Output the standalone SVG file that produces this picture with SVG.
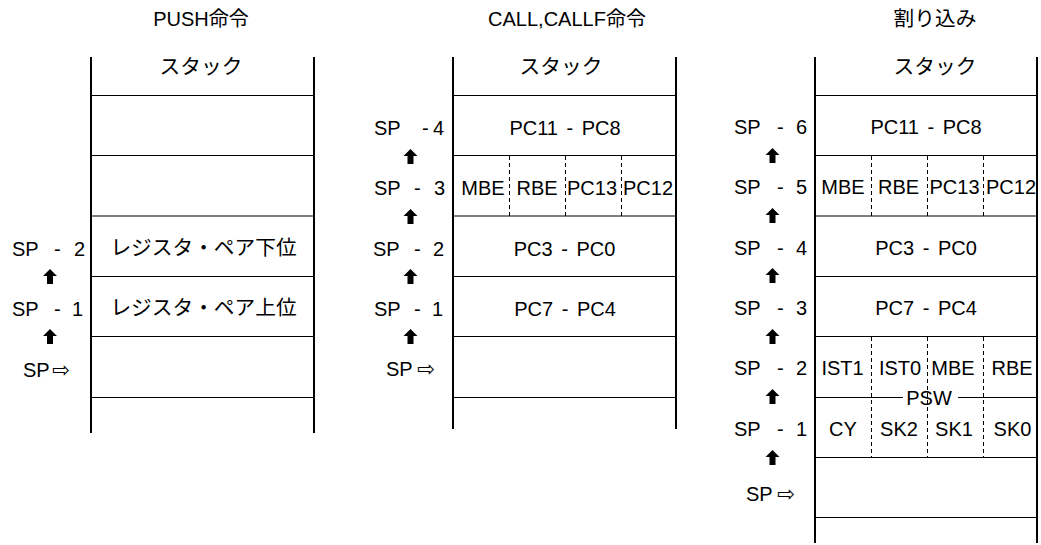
<svg xmlns="http://www.w3.org/2000/svg" width="1041" height="545" viewBox="0 0 1041 545">
<style>
text{font-family:"Liberation Sans","Noto Sans CJK JP",sans-serif;font-size:20px;fill:#000}
.c{text-anchor:middle}
.j{font-size:20.7px}
.ws{word-spacing:3px}
.ar{font-family:"DejaVu Sans",sans-serif;font-size:21px}
.v{stroke:#000;stroke-width:2;fill:none}
.h{stroke:#000;stroke-width:1;fill:none}
.d{stroke:#000;stroke-width:1;stroke-dasharray:4 3;fill:none}
</style>
<defs>
<path id="up" d="M0,-8 L7,-1 L3,-1 L3,7 L-3,7 L-3,-1 L-7,-1 Z" fill="#000"/>
</defs>
<rect width="1041" height="545" fill="#fff"/>

<g id="push">
<text class="c" x="201" y="26">PUSH命令</text>
<line class="v" x1="91" y1="57" x2="91" y2="433"/>
<line class="v" x1="314" y1="57" x2="314" y2="433"/>
<text class="c j" x="201" y="74">スタック</text>
<line class="h" x1="92" y1="95.5" x2="313" y2="95.5"/>
<line class="h" x1="92" y1="155.5" x2="313" y2="155.5"/>
<line class="h" x1="92" y1="216" x2="313" y2="216"/>
<line class="h" x1="92" y1="276.5" x2="313" y2="276.5"/>
<line class="h" x1="92" y1="336.5" x2="313" y2="336.5"/>
<line class="h" x1="92" y1="397.5" x2="313" y2="397.5"/>
<g id="push-low"><text class="c j" x="203.5" y="255">レジスタ・ペア下位</text></g>
<g id="push-high"><text class="c j" x="203.5" y="315">レジスタ・ペア上位</text></g>
<text x="12" y="256">SP <tspan x="54">-</tspan> <tspan x="74">2</tspan></text>
<text x="12" y="316">SP <tspan x="54">-</tspan> <tspan x="72">1</tspan></text>
<text x="23" y="377">SP<tspan class="ar" x="52">⇨</tspan></text>
</g>

<g id="call">
<text class="c" x="567" y="26">CALL,CALLF命令</text>
<line class="v" x1="453" y1="57" x2="453" y2="429"/>
<line class="v" x1="676" y1="57" x2="676" y2="429"/>
<text class="c j" x="561" y="74">スタック</text>
<line class="h" x1="454" y1="95.5" x2="675" y2="95.5"/>
<line class="h" x1="454" y1="155.5" x2="675" y2="155.5"/>
<line class="h" x1="454" y1="216" x2="675" y2="216"/>
<line class="h" x1="454" y1="276.5" x2="675" y2="276.5"/>
<line class="h" x1="454" y1="336.5" x2="675" y2="336.5"/>
<line class="h" x1="454" y1="397.5" x2="675" y2="397.5"/>
<line class="d" x1="509.5" y1="156" x2="509.5" y2="216"/>
<line class="d" x1="565.5" y1="156" x2="565.5" y2="216"/>
<line class="d" x1="621.5" y1="156" x2="621.5" y2="216"/>
<g id="call-r1"><text class="c ws" x="565" y="135">PC11 - PC8</text></g>
<g id="call-r2">
<text class="c" x="483" y="195">MBE</text>
<text class="c" x="537" y="195">RBE</text>
<text class="c" x="592" y="195">PC13</text>
<text class="c" x="648" y="195">PC12</text>
</g>
<g id="call-r3"><text class="c ws" x="564.5" y="256">PC3 - PC0</text></g>
<g id="call-r4"><text class="c ws" x="565" y="316">PC7 - PC4</text></g>
<text x="374" y="135">SP <tspan x="422">-</tspan> <tspan x="433">4</tspan></text>
<text x="374" y="195">SP <tspan x="414">-</tspan> <tspan x="434">3</tspan></text>
<text x="373" y="256">SP <tspan x="414">-</tspan> <tspan x="433">2</tspan></text>
<text x="374" y="316">SP <tspan x="414">-</tspan> <tspan x="432">1</tspan></text>
<text x="386" y="376">SP<tspan class="ar" x="417">⇨</tspan></text>
</g>

<g id="interrupt">
<text class="c j" x="935" y="26">割り込み</text>
<line class="v" x1="815" y1="57" x2="815" y2="543"/>
<line class="v" x1="1037" y1="57" x2="1037" y2="543"/>
<text class="c j" x="935" y="74">スタック</text>
<line class="h" x1="816" y1="95.5" x2="1036" y2="95.5"/>
<line class="h" x1="816" y1="155.5" x2="1036" y2="155.5"/>
<line class="h" x1="816" y1="216" x2="1036" y2="216"/>
<line class="h" x1="816" y1="276.5" x2="1036" y2="276.5"/>
<line class="h" x1="816" y1="336.5" x2="1036" y2="336.5"/>
<line class="h" x1="816" y1="397.5" x2="903" y2="397.5"/>
<line class="h" x1="958" y1="397.5" x2="1036" y2="397.5"/>
<line class="h" x1="816" y1="457.5" x2="1036" y2="457.5"/>
<line class="h" x1="816" y1="517.5" x2="1036" y2="517.5"/>
<line class="d" x1="871.5" y1="156" x2="871.5" y2="216"/>
<line class="d" x1="927.5" y1="156" x2="927.5" y2="216"/>
<line class="d" x1="983.5" y1="156" x2="983.5" y2="216"/>
<line class="d" x1="871.5" y1="337" x2="871.5" y2="457"/>
<line class="d" x1="927.5" y1="337" x2="927.5" y2="457"/>
<line class="d" x1="983.5" y1="337" x2="983.5" y2="457"/>
<g id="int-r1"><text class="c ws" x="926" y="134">PC11 - PC8</text></g>
<g id="int-r2">
<text class="c" x="843" y="194">MBE</text>
<text class="c" x="898.5" y="194">RBE</text>
<text class="c" x="954.5" y="194">PC13</text>
<text class="c" x="1011" y="194">PC12</text>
</g>
<g id="int-r3"><text class="c ws" x="926" y="255">PC3 - PC0</text></g>
<g id="int-r4"><text class="c ws" x="926" y="315">PC7 - PC4</text></g>
<g id="int-r5">
<text class="c" x="842.5" y="375">IST1</text>
<text class="c" x="900" y="375">IST0</text>
<text class="c" x="953" y="375">MBE</text>
<text class="c" x="1012" y="375">RBE</text>
</g>
<g id="psw"><text class="c" x="929" y="405">PSW</text></g>
<g id="int-r6">
<text class="c" x="843" y="436">CY</text>
<text class="c" x="899" y="436">SK2</text>
<text class="c" x="954" y="436">SK1</text>
<text class="c" x="1012.5" y="436">SK0</text>
</g>
<text x="734" y="134">SP <tspan x="777">-</tspan> <tspan x="796">6</tspan></text>
<text x="734" y="194">SP <tspan x="777">-</tspan> <tspan x="796">5</tspan></text>
<text x="734" y="255">SP <tspan x="777">-</tspan> <tspan x="796">4</tspan></text>
<text x="734" y="315">SP <tspan x="777">-</tspan> <tspan x="796">3</tspan></text>
<text x="734" y="375">SP <tspan x="777">-</tspan> <tspan x="796">2</tspan></text>
<text x="734" y="436">SP <tspan x="777">-</tspan> <tspan x="796">1</tspan></text>
<text x="746" y="501">SP<tspan class="ar" x="777">⇨</tspan></text>
</g>

<g id="connectors">
<use href="#up" x="50" y="277"/>
<use href="#up" x="50" y="337"/>
<use href="#up" x="410.5" y="157"/>
<use href="#up" x="410.5" y="217"/>
<use href="#up" x="410.5" y="277"/>
<use href="#up" x="410.5" y="337"/>
<use href="#up" x="772.5" y="156"/>
<use href="#up" x="772.5" y="216"/>
<use href="#up" x="772.5" y="276"/>
<use href="#up" x="772.5" y="337"/>
<use href="#up" x="772.5" y="397"/>
<use href="#up" x="772.5" y="458"/>
</g>
</svg>
